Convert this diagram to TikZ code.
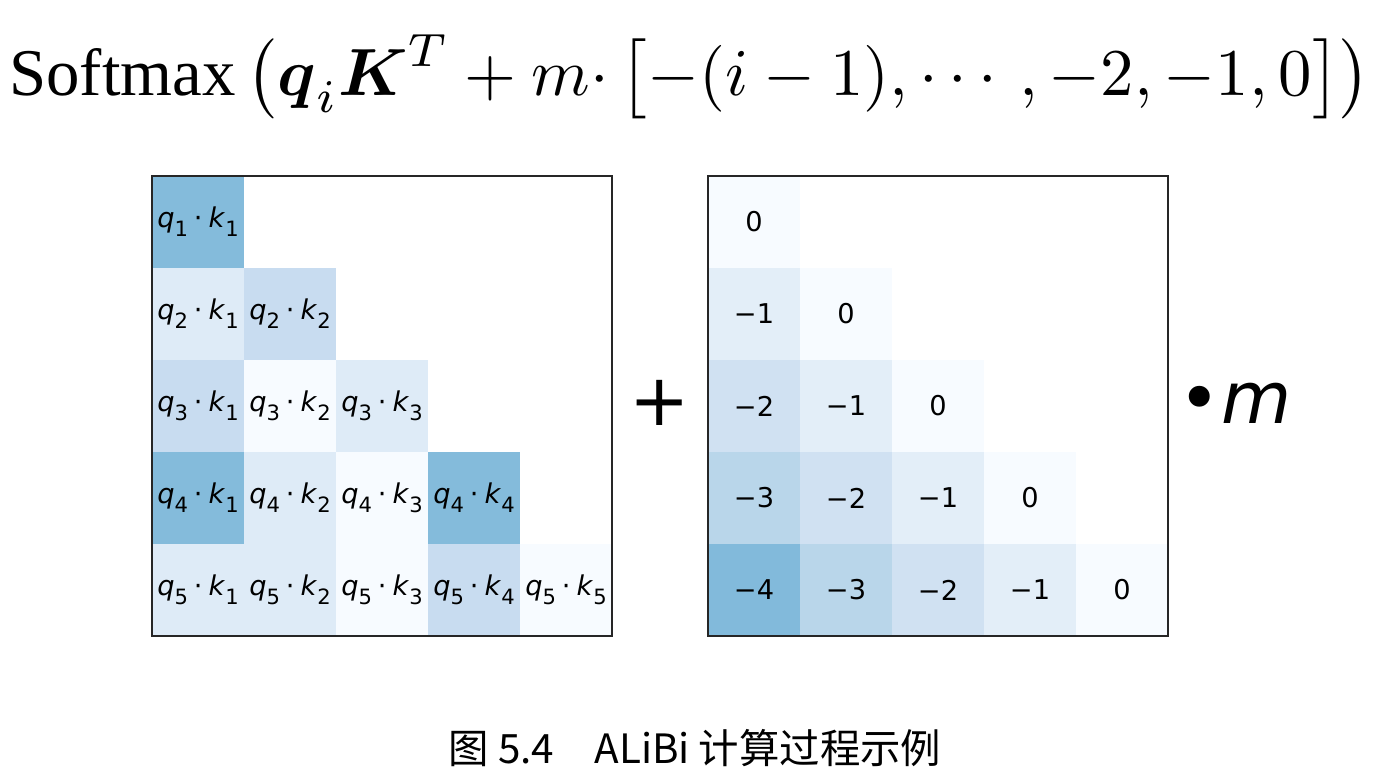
\documentclass[tikz,border=0pt]{standalone}
\usepackage{amsmath,amssymb}
\usepackage{fontspec}
\usepackage{xcolor}
\newfontfamily\dejavu{DejaVu Sans}
\newfontfamily\timesrm{Liberation Serif}
\newfontfamily\cjk{Noto Sans CJK SC}
\usetikzlibrary{positioning}

\definecolor{bluesdark}{HTML}{84BBDB}
\definecolor{bluesmid}{HTML}{C8DCF0}
\definecolor{blueslight}{HTML}{DEEBF7}
\definecolor{bluespale}{HTML}{F7FBFF}
\definecolor{biasc0}{HTML}{F7FBFF}
\definecolor{biasc1}{HTML}{E3EEF8}
\definecolor{biasc2}{HTML}{D0E1F2}
\definecolor{biasc3}{HTML}{B9D6EA}
\definecolor{biasc4}{HTML}{82BADB}

\newcommand{\subsz}{\fontsize{12}{12}\selectfont}
\newcommand{\qdotk}[2]{\textit{q}\raisebox{-0.33em}{\subsz #1}\kern0.22em·\kern0.22em\textit{k}\raisebox{-0.33em}{\subsz #2}}

\begin{document}
\begin{tikzpicture}[
    x=0.02cm, y=-0.02cm,
    cell/.style={rectangle, minimum width=1.84cm, minimum height=1.84cm, inner sep=0pt, font=\dejavu\fontsize{15.5}{18}\selectfont},
    frame/.style={draw=black!85, line width=1pt},
    bigsym/.style={inner sep=0pt, font=\dejavu\fontsize{41}{44}\selectfont},
    formula/.style={inner sep=0pt, scale=3.8},
    caption/.style={inner sep=0pt, font=\cjk\fontsize{23}{26}\selectfont}
]
    \useasboundingbox (0,0) rectangle (1380,784);

    % Top: the ALiBi formula
    \node (softmax) at (690,77) [formula] {$\mbox{\timesrm Softmax}\,\bigl(\boldsymbol{q}_i\boldsymbol{K}^T+m{\cdot}\,\bigl[-(i-1),\cdots,-2,-1,0\bigr]\bigr)$};

    % Left: attention scores q_i . k_j
    \foreach \i/\j/\c in {1/1/bluesdark, 2/1/blueslight, 2/2/bluesmid, 3/1/bluesmid, 3/2/bluespale, 3/3/blueslight,
                          4/1/bluesdark, 4/2/blueslight, 4/3/bluespale, 4/4/bluesdark,
                          5/1/blueslight, 5/2/blueslight, 5/3/bluespale, 5/4/bluesmid, 5/5/bluespale}
        \node (qk\i\j) at ({198+92*(\j-1)}, {222+92*(\i-1)}) [cell, fill=\c] {\qdotk{\i}{\j}};
    \draw [frame] (qk11.north west) rectangle (qk55.south east);

    \node (plus) at (660,403) [bigsym] {+};

    % Right: linear bias matrix
    \foreach \i in {1,...,5}
        \foreach \j in {1,...,\i} {
            \pgfmathtruncatemacro\d{\i-\j}
            \node (bias\i\j) at ({754+92*(\j-1)}, {222+92*(\i-1)}) [cell, fill=biasc\d] {\ifnum\d=0 0\else −\d\fi};
        }
    \draw [frame] (bias11.north west) rectangle (bias55.south east);

    \node (slope) at (1235,403) [bigsym] {•\textit{m}};

    % Caption
    \node (caption) at (695,748) [caption] {图 5.4\hspace{1em}ALiBi 计算过程示例};
\end{tikzpicture}
\end{document}
